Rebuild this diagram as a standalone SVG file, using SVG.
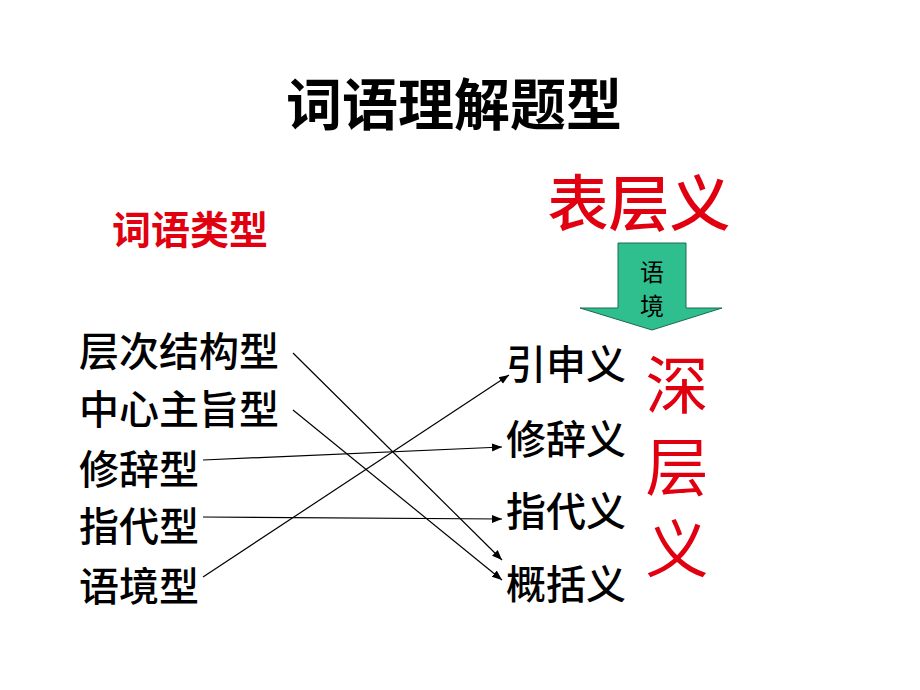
<svg xmlns="http://www.w3.org/2000/svg" width="920" height="690" viewBox="0 0 920 690">
<style>
.t{font-family:"Noto Sans CJK SC","Noto Sans",sans-serif;fill:#000}
.red{font-family:"Noto Sans CJK SC",sans-serif;fill:#e00010}
.lbl{font-size:40px;font-weight:500}
.conn{stroke:#000;stroke-width:1.2;fill:none;marker-end:url(#ah)}
</style>
<defs>
<marker id="ah" viewBox="0 0 10 10" refX="10" refY="5" markerWidth="10" markerHeight="10" markerUnits="userSpaceOnUse" orient="auto">
<path d="M0,1 L10,5 L0,9 Z" fill="#000"/>
</marker>
</defs>
<rect width="920" height="690" fill="#fff"/>
<g id="title"><text class="t" x="454" y="125" font-size="56" font-weight="bold" text-anchor="middle">词语理解题型</text></g>
<g id="word-types"><text class="red" x="190" y="244" font-size="39" font-weight="bold" text-anchor="middle">词语类型</text></g>
<g id="surface"><text class="red" x="639" y="226" font-size="61" font-weight="500" text-anchor="middle">表层义</text></g>
<g id="context-arrow">
<path d="M618,243 H686 V308 H722 L652,330 L580,308 H618 Z" fill="#2fbf8f" stroke="#1a6a50" stroke-width="1"/>
<text class="t" x="652" y="281" font-size="24" text-anchor="middle" fill="#222">语</text>
<text class="t" x="652" y="315" font-size="24" text-anchor="middle" fill="#222">境</text>
</g>
<g id="deep">
<text class="red" x="677" y="408" font-size="63" text-anchor="middle">深</text>
<text class="red" x="677" y="490" font-size="63" text-anchor="middle">层</text>
<text class="red" x="677" y="572" font-size="63" text-anchor="middle">义</text>
</g>
<g id="left-1"><text class="t lbl" x="79" y="366">层次结构型</text></g>
<g id="left-2"><text class="t lbl" x="79" y="424">中心主旨型</text></g>
<g id="left-3"><text class="t lbl" x="79" y="484">修辞型</text></g>
<g id="left-4"><text class="t lbl" x="79" y="541">指代型</text></g>
<g id="left-5"><text class="t lbl" x="79" y="601">语境型</text></g>
<g id="right-1"><text class="t lbl" x="506" y="379">引申义</text></g>
<g id="right-2"><text class="t lbl" x="506" y="454">修辞义</text></g>
<g id="right-3"><text class="t lbl" x="506" y="526">指代义</text></g>
<g id="right-4"><text class="t lbl" x="506" y="599">概括义</text></g>
<g id="connectors">
<line class="conn" x1="293" y1="353" x2="502" y2="560"/>
<line class="conn" x1="293" y1="410" x2="502" y2="580"/>
<line class="conn" x1="203" y1="460" x2="502" y2="447"/>
<line class="conn" x1="203" y1="517" x2="502" y2="519"/>
<line class="conn" x1="203" y1="577" x2="509" y2="375"/>
</g>
</svg>
